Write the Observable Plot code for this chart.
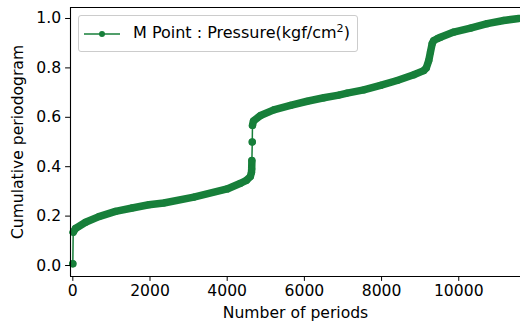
<!DOCTYPE html>
<html>
<head>
<meta charset="utf-8">
<script src="https://cdn.jsdelivr.net/npm/d3@7"></script>
<script src="https://cdn.jsdelivr.net/npm/@observablehq/plot@0.6"></script>
<style>
  html, body { margin: 0; padding: 0; background: #fff; }
  #wrap { position: relative; width: 520px; height: 329px; font-family: "DejaVu Sans", sans-serif; }
  #legend {
    position: absolute; left: 78px; top: 15px; width: 280px; height: 37px;
    border: 1px solid #cccccc; border-radius: 3px; background: rgba(255,255,255,0.8);
    box-sizing: border-box;
  }
  #legend svg { position: absolute; left: 4px; top: 0; }
  #legend .lab { position: absolute; left: 54px; top: 8px; font-size: 16px; color: #000; white-space: nowrap; line-height: 18px; }
  #legend sup { font-size: 11.2px; vertical-align: 6px; line-height: 0; }
</style>
</head>
<body>
<div id="wrap">
  <div id="chart"></div>
  <div id="legend">
    <svg width="44" height="36"><line x1="1" x2="37" y1="18" y2="18" stroke="#177f3a" stroke-width="1.5"/><circle cx="19" cy="18" r="3" fill="#177f3a"/></svg>
    <div class="lab">M Point : Pressure(kgf/cm<sup>2</sup>)</div>
  </div>
</div>
<script>
// Values
const periods = [0, 10, 70, 330, 676, 1106, 1539, 1969, 2358, 3135, 4000, 4345, 4500, 4600, 4630, 4635, 4640, 4650, 4655, 4680, 4863, 5207, 5640, 6073, 6503, 6891, 7109, 7539, 7971, 8404, 8834, 9093, 9160, 9223, 9267, 9311, 9352, 9440, 9526, 9870, 10303, 10736, 11166, 11554];
const cumulative = [0.007, 0.135, 0.150, 0.175, 0.198, 0.219, 0.233, 0.246, 0.253, 0.277, 0.310, 0.333, 0.345, 0.360, 0.378, 0.391, 0.425, 0.500, 0.567, 0.585, 0.607, 0.630, 0.648, 0.665, 0.679, 0.690, 0.698, 0.711, 0.729, 0.749, 0.772, 0.789, 0.800, 0.830, 0.864, 0.898, 0.911, 0.918, 0.924, 0.945, 0.961, 0.979, 0.992, 1.000];
const xTicks = [0, 2000, 4000, 6000, 8000, 10000];
const yTicks = [0, 0.2, 0.4, 0.6, 0.8, 1.0];
const xDomain = [-60, 11600];
const yDomain = [-0.0445, 1.0445];
const seriesName = "M Point : Pressure(kgf/cm²)";

const C = "#177f3a";
const FS = 15.6;
let seg = 0;
const data = periods.map((x, i) => {
  if (i > 0 && Math.abs(cumulative[i] - cumulative[i - 1]) > 0.045) seg++;
  return {x, y: cumulative[i], seg, series: seriesName};
});

const chart = Plot.plot({
  width: 520, height: 329,
  marginLeft: 70, marginRight: 0, marginTop: 7, marginBottom: 53,
  x: {domain: xDomain},
  y: {domain: yDomain},
  style: {fontFamily: "DejaVu Sans", fontSize: FS + "px", color: "#000", background: "white", overflow: "visible"},
  marks: [
    Plot.line(data, {x: "x", y: "y", stroke: C, strokeWidth: 1.5}),
    Plot.line(data, {x: "x", y: "y", z: "seg", stroke: C, strokeWidth: 7.5, strokeLinecap: "round", strokeLinejoin: "round"}),
    Plot.dot(data, {x: "x", y: "y", r: 3.6, fill: C}),
    Plot.ruleY([yDomain[0]], {stroke: "#000", strokeWidth: 1.1}),
    Plot.ruleY([yDomain[1]], {stroke: "#000", strokeWidth: 1.1}),
    Plot.ruleX([xDomain[0]], {stroke: "#000", strokeWidth: 1.1}),
    Plot.axisX({ticks: xTicks, tickFormat: "d", tickSize: 4.9, tickPadding: 3.5, label: null, fontSize: FS + "px"}),
    Plot.axisY({ticks: yTicks, tickFormat: ".1f", tickSize: 4.9, tickPadding: 4.5, label: null, fontSize: FS + "px"}),
    Plot.text(["Number of periods"], {frameAnchor: "bottom", dy: 41, fontSize: FS, fill: "#000"}),
    Plot.text(["Cumulative periodogram"], {frameAnchor: "left", textAnchor: "middle", rotate: -90, dx: -53, fontSize: FS, fill: "#000"})
  ]
});
document.getElementById("chart").appendChild(chart);
</script>
</body>
</html>
